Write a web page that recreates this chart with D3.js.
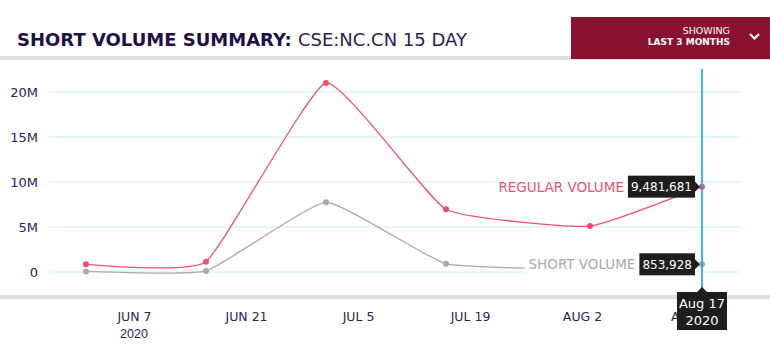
<!DOCTYPE html>
<html>
<head>
<meta charset="utf-8">
<script src="https://cdn.jsdelivr.net/npm/d3@7"></script>
<style>
  body { margin: 0; background: #fff; }
  svg { display: block; font-family: "DejaVu Sans", sans-serif; }
</style>
</head>
<body>
<svg width="770" height="352"></svg>
<script>
// Chart data
var dates = ['2020-06-01', '2020-06-16', '2020-07-01', '2020-07-16', '2020-08-03', '2020-08-17'];
var regularVolume = [850000, 1150000, 21000000, 6970000, 5100000, 9481681];
var shortVolume = [60000, 120000, 7740000, 920000, 350000, 853928];
var yTicks = [0, 5000000, 10000000, 15000000, 20000000];
var xTicks = ['2020-06-07', '2020-06-21', '2020-07-05', '2020-07-19', '2020-08-02', '2020-08-16'];

var parseDate = d3.timeParse('%Y-%m-%d');
var svg = d3.select('svg');

var navy = '#2b2456';
var red = '#f0506f';
var grey = '#a9a9a9';

// Header
svg.append('rect').attr('x', 0).attr('y', 56).attr('width', 770).attr('height', 4).attr('fill', '#e0e0e0');
var title = svg.append('text').attr('x', 17).attr('y', 46)
    .attr('font-size', 18).attr('fill', '#1e1148');
title.append('tspan').attr('font-weight', 'bold').text('SHORT VOLUME SUMMARY: ');
title.append('tspan').attr('fill', '#2a2250').text('CSE:NC.CN 15 DAY');

svg.append('rect').attr('x', 571).attr('y', 17).attr('width', 199).attr('height', 42).attr('fill', '#8a1230');
svg.append('text').attr('x', 730).attr('y', 34).attr('text-anchor', 'end')
    .attr('font-size', 9.5).attr('fill', '#fff').text('SHOWING');
svg.append('text').attr('x', 730).attr('y', 45).attr('text-anchor', 'end')
    .attr('font-size', 9).attr('font-weight', 'bold').attr('fill', '#fff').text('LAST 3 MONTHS');
svg.append('path').attr('d', 'M750,34 L754.5,38.5 L759,34')
    .attr('fill', 'none').attr('stroke', '#fff').attr('stroke-width', 2);

// Bottom rule
svg.append('rect').attr('x', 0).attr('y', 295).attr('width', 770).attr('height', 4).attr('fill', '#dedede');

// Scales
var xScale = d3.scaleTime()
    .domain([parseDate(dates[0]), parseDate(dates[dates.length - 1])])
    .range([86, 702]);
var yScale = d3.scaleLinear()
    .domain([0, 20000000])
    .range([272, 92]);

// Grid lines
var gridG = svg.append('g');
gridG.selectAll('line').data(yTicks).enter().append('line')
    .attr('x1', 49).attr('x2', 740)
    .attr('y1', function(d) { return yScale(d); })
    .attr('y2', function(d) { return yScale(d); })
    .attr('stroke', '#c9f1f5').attr('stroke-width', 1);

// Y axis
var yAxisG = svg.append('g').attr('transform', 'translate(38,0)')
    .call(d3.axisLeft(yScale).tickValues(yTicks).tickSize(0).tickPadding(0)
        .tickFormat(function(d) { return d === 0 ? '0' : (d / 1000000) + 'M'; }));
yAxisG.select('.domain').remove();
yAxisG.selectAll('text').attr('font-size', 13).attr('fill', navy)
    .attr('font-family', '"DejaVu Sans", sans-serif').attr('dy', '0.35em');

// X axis
var xAxisG = svg.append('g').attr('transform', 'translate(0,312)')
    .call(d3.axisBottom(xScale).tickValues(xTicks.map(parseDate)).tickSize(0).tickPadding(0)
        .tickFormat(function(d) { return d3.timeFormat('%b %-d')(d).toUpperCase(); }));
xAxisG.select('.domain').remove();
xAxisG.selectAll('text').attr('font-size', 12.5).attr('fill', navy)
    .attr('font-family', '"DejaVu Sans", sans-serif');
xAxisG.append('text').attr('x', xScale(parseDate(xTicks[0]))).attr('y', 26)
    .attr('text-anchor', 'middle').attr('font-size', 12.5).attr('fill', navy).text('2020');

// Lines
var line = d3.line()
    .x(function(d) { return xScale(parseDate(d.date)); })
    .y(function(d) { return yScale(d.value); })
    .curve(d3.curveCardinal.tension(0.6));

function series(values) {
    return dates.map(function(dt, i) { return {date: dt, value: values[i]}; });
}
var seriesList = [
    {name: 'SHORT VOLUME', color: grey, data: series(shortVolume)},
    {name: 'REGULAR VOLUME', color: red, data: series(regularVolume)}
];

seriesList.forEach(function(s) {
    svg.append('path').datum(s.data)
        .attr('d', line)
        .attr('fill', 'none').attr('stroke', s.color).attr('stroke-width', 1.3);
    svg.selectAll(null).data(s.data).enter().append('circle')
        .attr('cx', function(d) { return xScale(parseDate(d.date)); })
        .attr('cy', function(d) { return yScale(d.value); })
        .attr('r', 3).attr('fill', s.color);
});

// Hover line
var lastX = xScale(parseDate(dates[dates.length - 1]));
svg.append('line').attr('x1', lastX).attr('x2', lastX).attr('y1', 69).attr('y2', 290)
    .attr('stroke', '#0aa8ec').attr('stroke-width', 1.6);

// Value labels + tooltips
var fmt = d3.format(',');
seriesList.forEach(function(s) {
    var last = s.data[s.data.length - 1];
    var cy = yScale(last.value);
    var g = svg.append('g');
    var label = g.append('text').attr('x', 0).attr('y', cy + 5)
        .attr('font-size', 13.5).attr('fill', s.color).text(s.name);
    var box = g.append('rect').attr('fill', '#1e1e1e');
    var val = g.append('text').attr('y', cy + 4.5)
        .attr('font-size', 12).attr('fill', '#fff').text(fmt(last.value));
    var vw = val.node().getComputedTextLength();
    var boxRight = lastX - 7;
    var boxLeft = boxRight - vw - 6;
    box.attr('x', boxLeft).attr('y', cy - 11).attr('width', vw + 6).attr('height', 22);
    val.attr('x', boxLeft + 3);
    g.append('path').attr('d', 'M' + boxRight + ',' + (cy - 5) + ' L' + (boxRight + 5) + ',' + cy + ' L' + boxRight + ',' + (cy + 5) + 'Z')
        .attr('fill', '#1e1e1e');
    var lw = label.node().getComputedTextLength();
    label.attr('x', boxLeft - 4 - lw);
    g.insert('rect', 'text').attr('x', boxLeft - 8 - lw).attr('y', cy - 10)
        .attr('width', lw + 8).attr('height', 20).attr('fill', '#fff');
});

// Date tooltip
var lastDate = parseDate(dates[dates.length - 1]);
var dg = svg.append('g');
dg.append('path').attr('d', 'M' + (lastX - 5) + ',292 L' + lastX + ',287 L' + (lastX + 5) + ',292Z').attr('fill', '#1e1e1e');
dg.append('rect').attr('x', lastX - 25).attr('y', 292).attr('width', 50).attr('height', 38).attr('fill', '#1e1e1e');
dg.append('text').attr('x', lastX).attr('y', 308).attr('text-anchor', 'middle')
    .attr('font-size', 13).attr('fill', '#fff').text(d3.timeFormat('%b %-d')(lastDate));
dg.append('text').attr('x', lastX).attr('y', 325).attr('text-anchor', 'middle')
    .attr('font-size', 13).attr('fill', '#fff').text(d3.timeFormat('%Y')(lastDate));
</script>
</body>
</html>
